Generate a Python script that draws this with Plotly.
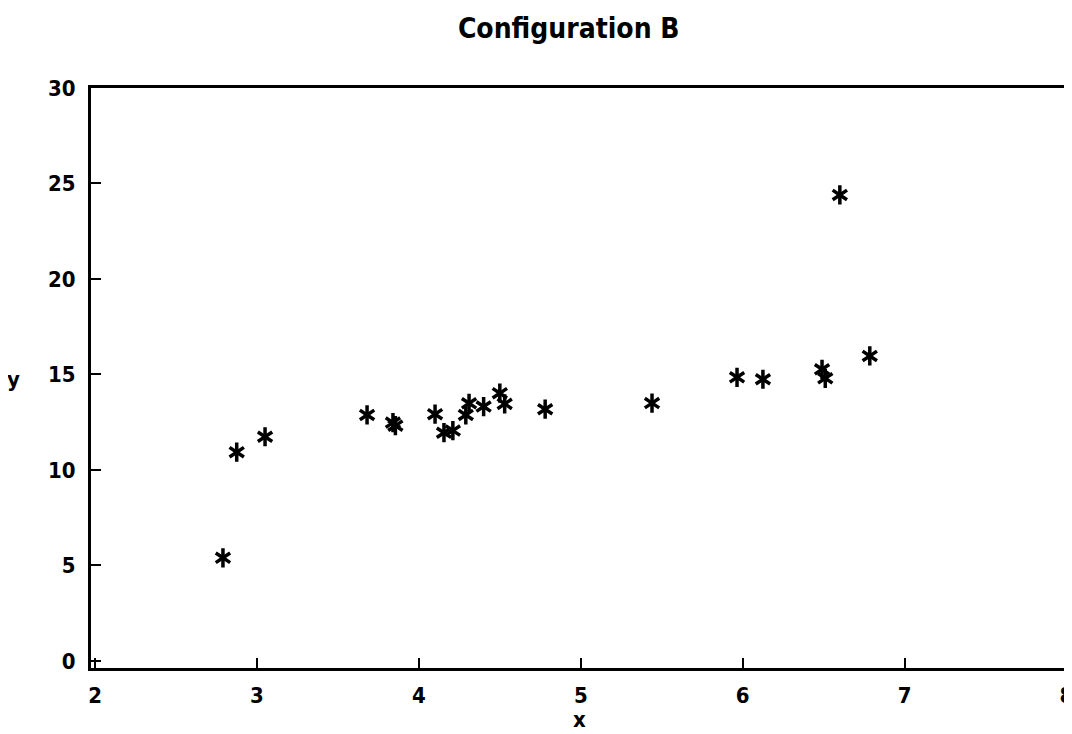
import plotly.graph_objects as go

x_vals = [2.79, 2.875, 3.05, 3.68, 3.84, 3.855, 4.10, 4.155, 4.21, 4.29, 4.31,
          4.40, 4.50, 4.53, 4.78, 5.44, 5.965, 6.125, 6.49, 6.51, 6.60, 6.785]
y_vals = [5.4, 10.93, 11.74, 12.88, 12.48, 12.32, 12.92, 11.95, 12.06, 12.88, 13.49,
          13.32, 14.02, 13.46, 13.18, 13.5, 14.85, 14.75, 15.27, 14.8, 24.4, 15.97]
x_ticks = [2, 3, 4, 5, 6, 7, 8]
y_ticks = [0, 5, 10, 15, 20, 25, 30]
title_text = "Configuration B"

FONT = "DejaVu Sans Condensed"

fig = go.Figure()
for sym in ["y-up-open", "y-down-open"]:
    fig.add_trace(go.Scatter(
        x=x_vals, y=y_vals, mode="markers",
        marker=dict(symbol=sym, size=12, color="black",
                    line=dict(color="black", width=3.5)),
        showlegend=False, hoverinfo="x+y", cliponaxis=False))

axis_common = dict(showgrid=False, zeroline=False, showline=True, linecolor="black",
                   linewidth=3, mirror=True, ticks="inside", ticklen=10, tickwidth=2,
                   tickcolor="black", automargin=False, ticklabeloverflow="allow",
                   tickfont=dict(family=FONT, size=22, color="black", weight="bold"))

fig.update_layout(
    width=1064, height=726,
    paper_bgcolor="white", plot_bgcolor="white",
    margin=dict(l=83, r=5, t=80, b=66, autoexpand=False),
    title=dict(text=title_text, x=0.527, xanchor="center", y=0.972, yanchor="middle",
               font=dict(family=FONT, size=28, color="black", weight="bold")),
    xaxis=dict(range=[1.975, 8.003], tickvals=x_ticks, ticktext=[str(v) for v in x_ticks],
               ticklabelstandoff=6, **axis_common),
    yaxis=dict(range=[-0.37, 30], tickvals=y_ticks, ticktext=[str(v) for v in y_ticks],
               ticklabelstandoff=8, **axis_common),
    annotations=[
        dict(text="x", xref="paper", yref="paper", x=0.5, y=-0.089, showarrow=False,
             xanchor="center", yanchor="middle",
             font=dict(family=FONT, size=22, color="black", weight="bold")),
        dict(text="y", xref="paper", yref="paper", x=-0.079, y=0.497, showarrow=False,
             xanchor="center", yanchor="middle",
             font=dict(family=FONT, size=22, color="black", weight="bold")),
    ],
)

fig.write_html("out.html")
